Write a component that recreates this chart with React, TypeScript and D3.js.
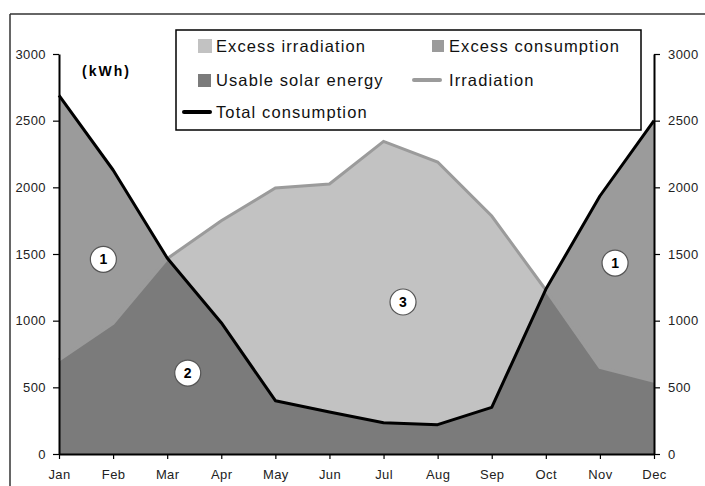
import * as d3 from 'd3';
import React, { useRef, useEffect } from 'react';

const months = ['Jan', 'Feb', 'Mar', 'Apr', 'May', 'Jun', 'Jul', 'Aug', 'Sep', 'Oct', 'Nov', 'Dec'];
const consumption = [2690, 2130, 1470, 985, 400, 315, 235, 220, 350, 1235, 1935, 2500];
const irradiation = [705, 980, 1465, 1750, 1995, 2025, 2345, 2190, 1785, 1230, 650, 545];
const yTicks = [0, 500, 1000, 1500, 2000, 2500, 3000];

// numbered markers: month index (fractional) and kWh
const markerLabels = ['1', '2', '3', '1'];
const markerMonth = [0.82, 2.38, 6.36, 10.28];
const markerValue = [1460, 607, 1140, 1432];

const FONT = 'Arial, "Liberation Sans", sans-serif';

const App = () => {
  const ref = useRef(null);

  const width = 705,
    height = 486;
  const margin = { top: 54, left: 59, right: 51, bottom: 32 };

  useEffect(() => {
    const svg = d3.select(ref.current);
    svg.selectAll('*').remove();

    const x = d3.scaleLinear().domain([0, 11]).range([margin.left, width - margin.right]);
    const y = d3.scaleLinear().domain([0, 3000]).range([height - margin.bottom, margin.top]);

    const idx = d3.range(months.length);

    // outer frame
    svg.append('line').attr('x1', 10).attr('x2', width).attr('y1', 14).attr('y2', 14)
      .attr('stroke', '#333').attr('stroke-width', 1.5);
    svg.append('line').attr('x1', 10).attr('x2', 10).attr('y1', 14).attr('y2', height)
      .attr('stroke', '#333').attr('stroke-width', 1.5);

    const areaOf = (vals) => d3.area()
      .x((i) => x(i))
      .y0(y(0))
      .y1((i) => y(vals[i]));

    svg.append('clipPath').attr('id', 'irrClip')
      .append('path').attr('d', areaOf(irradiation)(idx));

    // excess irradiation
    svg.append('path').attr('d', areaOf(irradiation)(idx)).attr('fill', '#c2c2c2');
    // excess consumption
    svg.append('path').attr('d', areaOf(consumption)(idx)).attr('fill', '#9b9b9b');
    // usable solar energy
    svg.append('path').attr('d', areaOf(consumption)(idx)).attr('fill', '#7b7b7b')
      .attr('clip-path', 'url(#irrClip)');

    // irradiation line
    svg.append('path')
      .datum(idx)
      .attr('fill', 'none')
      .attr('stroke', '#9b9b9b')
      .attr('stroke-width', 3)
      .attr('d', d3.line().x((i) => x(i)).y((i) => y(irradiation[i])));

    // total consumption line
    svg.append('path')
      .datum(idx)
      .attr('fill', 'none')
      .attr('stroke', '#000')
      .attr('stroke-width', 3)
      .attr('stroke-linejoin', 'round')
      .attr('d', d3.line().x((i) => x(i)).y((i) => y(consumption[i])));

    // axes
    const styleAxis = (g) => {
      g.select('.domain').attr('stroke', '#000').attr('stroke-width', 2);
      g.selectAll('.tick line').attr('stroke', '#000').attr('stroke-width', 1.2);
      g.selectAll('text').attr('font-family', FONT).attr('font-size', 13)
        .attr('letter-spacing', 0.4).attr('fill', '#222');
    };

    svg.append('g')
      .attr('transform', 'translate(' + x(0) + ',0)')
      .call(d3.axisLeft(y).tickValues(yTicks).tickFormat(d3.format('d')).tickSize(6).tickSizeOuter(0).tickPadding(7))
      .call(styleAxis);

    svg.append('g')
      .attr('transform', 'translate(' + x(11) + ',0)')
      .call(d3.axisRight(y).tickValues(yTicks).tickFormat(d3.format('d')).tickSize(6).tickSizeOuter(0).tickPadding(8))
      .call(styleAxis);

    svg.append('g')
      .attr('transform', 'translate(0,' + y(0) + ')')
      .call(d3.axisBottom(x).tickValues(idx).tickFormat((i) => months[i]).tickSize(5).tickSizeOuter(0).tickPadding(11))
      .call(styleAxis);

    // markers
    markerLabels.forEach((lab, k) => {
      const cx = x(markerMonth[k]);
      const cy = y(markerValue[k]);
      svg.append('circle').attr('cx', cx).attr('cy', cy).attr('r', 13)
        .attr('fill', '#fff').attr('stroke', '#555').attr('stroke-width', 1.2);
      svg.append('text').attr('x', cx).attr('y', cy + 5).attr('text-anchor', 'middle')
        .attr('font-family', FONT).attr('font-size', 14).attr('font-weight', 'bold').text(lab);
    });

    // unit label
    svg.append('text').attr('x', 82).attr('y', 76).text('(kWh)')
      .attr('font-family', FONT).attr('font-size', 14).attr('font-weight', 'bold')
      .attr('letter-spacing', 2);

    // Handmade legend
    const lg = svg.append('g');
    lg.append('rect').attr('x', 176).attr('y', 30).attr('width', 465).attr('height', 100)
      .attr('fill', '#fff').attr('stroke', '#000').attr('stroke-width', 1.5);
    const legText = (tx, ty, t) => lg.append('text').attr('x', tx).attr('y', ty).text(t)
      .attr('font-family', FONT).attr('font-size', 16.5).attr('letter-spacing', 1.1).attr('fill', '#111');
    lg.append('rect').attr('x', 198).attr('y', 39).attr('width', 14).attr('height', 14).attr('fill', '#c2c2c2');
    legText(216, 52, 'Excess irradiation');
    lg.append('rect').attr('x', 432).attr('y', 40).attr('width', 12).attr('height', 12).attr('fill', '#9b9b9b');
    legText(449, 52, 'Excess consumption');
    lg.append('rect').attr('x', 198).attr('y', 74).attr('width', 13).attr('height', 13).attr('fill', '#7b7b7b');
    legText(216, 86, 'Usable solar energy');
    lg.append('line').attr('x1', 414).attr('x2', 440).attr('y1', 80).attr('y2', 80)
      .attr('stroke', '#9b9b9b').attr('stroke-width', 4).attr('stroke-linecap', 'round');
    legText(449, 86, 'Irradiation');
    lg.append('line').attr('x1', 184).attr('x2', 210).attr('y1', 112).attr('y2', 112)
      .attr('stroke', '#000').attr('stroke-width', 4).attr('stroke-linecap', 'round');
    legText(216, 118, 'Total consumption');
  });

  return (
    <svg ref={ref} width={width} height={height}
      style={{ position: 'absolute', left: 0, top: 0, background: '#fff' }}></svg>
  );
};

export default App;
